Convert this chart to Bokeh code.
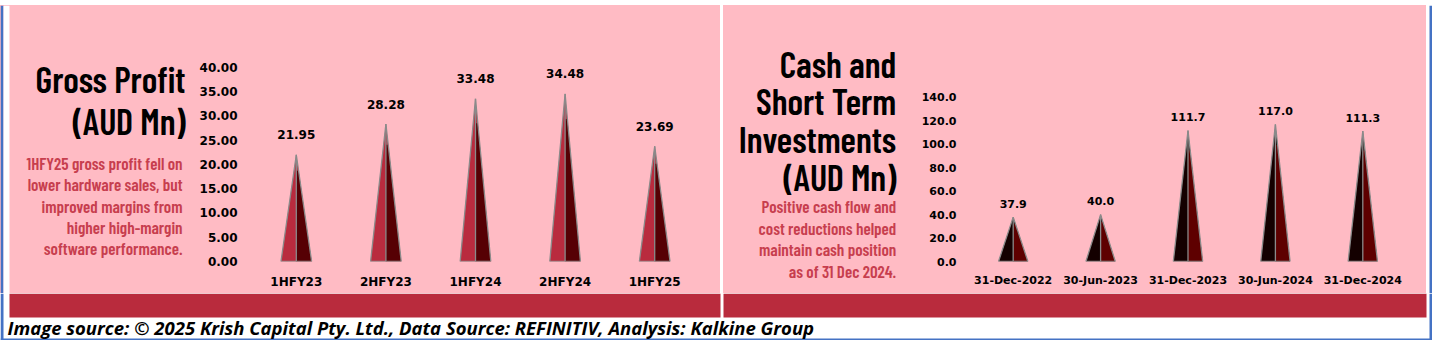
from bokeh.plotting import figure
from bokeh.models import Range1d, FixedTicker, NumeralTickFormatter
from bokeh.layouts import row, column
from bokeh.embed import file_html
from bokeh.resources import INLINE
from bokeh.core.properties import value

# ---------------- data ----------------
gp_periods = ["1HFY23", "2HFY23", "1HFY24", "2HFY24", "1HFY25"]
gp_values = [21.95, 28.28, 33.48, 34.48, 23.69]
gp_ticks = [0, 5, 10, 15, 20, 25, 30, 35, 40]

cash_dates = ["31-Dec-2022", "30-Jun-2023", "31-Dec-2023", "30-Jun-2024", "31-Dec-2024"]
cash_values = [37.9, 40.0, 111.7, 117.0, 111.3]
cash_ticks = [0, 20, 40, 60, 80, 100, 120, 140]

gp_title = ["Gross Profit", "(AUD Mn)"]
gp_note = ["1HFY25 gross profit fell on", "lower hardware sales, but",
           "improved margins from", "higher high-margin", "software performance."]
cash_title = ["Cash and", "Short Term", "Investments", "(AUD Mn)"]
cash_note = ["Positive cash flow and", "cost reductions helped",
             "maintain cash position", "as of 31 Dec 2024."]
source_note = "Image source: \u00a9 2025 Krish Capital Pty. Ltd., Data Source: REFINITIV, Analysis: Kalkine Group"

# ---------------- style ----------------
PINK = "#FFBBC4"
BAND = "#B92B3D"
BLUE = "#4472C4"
NOTE = "#C73E4E"
OUTLINE = "#8A8A8A"
NARROW = "Barlow Condensed SemiBold, Barlow Condensed, DejaVu Sans Condensed, sans-serif"
TICKF = "DejaVu Sans"

W = 1432
TOP_H = 5
ROW_H = 288
BOT_H = 47
FRAME_H = 256


def canvas(w, h, bg):
    p = figure(width=w, height=h, x_range=Range1d(0, w), y_range=Range1d(h, 0),
               toolbar_location=None, output_backend="svg", title=None,
               x_axis_location=None, y_axis_location=None, min_border=0,
               outline_line_color=None, background_fill_color=None, border_fill_color=None,
               frame_align=False, styles={"background-color": bg})
    p.grid.visible = False
    return p


def text_block(p, lines, x, ys, size, color, style="normal", align="right"):
    p.text(x=[x] * len(lines), y=ys, text=lines, text_align=align,
           text_baseline="alphabetic", text_font=value(NARROW),
           text_font_size=size, text_color=color, text_font_style=style)


def cone_chart(cats, vals, ticks, fmt, y_end, width, b_left, b_right, hw,
               left_col, right_col, fsize, val_off, y_stand, x_stand, dec):
    n = len(cats)
    p = figure(width=width, height=ROW_H, x_range=Range1d(-0.5, n - 0.5),
               y_range=Range1d(0, y_end), toolbar_location=None, output_backend="svg",
               title=None, min_border_left=b_left, min_border_right=b_right,
               min_border_top=0, min_border_bottom=ROW_H - FRAME_H,
               background_fill_color=None, border_fill_color=None, outline_line_color=None,
               frame_align=False, styles={"background-color": PINK})
    p.grid.visible = False
    centers = list(range(n))
    xs = [[c - hw, c, c + hw] for c in centers]
    ys = [[0, v, 0] for v in vals]
    p.patches(xs, ys, fill_color=left_col, line_color=None)
    xs2 = [[c, c, c + hw * 0.15, c + hw] for c in centers]
    ys2 = [[0, v * 0.85, v * 0.85, 0] for v in vals]
    p.patches(xs2, ys2, fill_color=right_col, line_color=None)
    p.patches(xs, ys, fill_color=None, line_color=OUTLINE, line_width=1.3)
    p.segment(x0=centers, y0=[0] * n, x1=centers, y1=vals, line_color=OUTLINE, line_width=1.3)
    p.text(x=centers, y=vals, text=[f"{v:.{dec}f}" for v in vals], text_align="center",
           text_baseline="middle", y_offset=-val_off, text_font=value(TICKF),
           text_font_style="bold", text_font_size=fsize, text_color="black")
    ya = p.yaxis[0]
    ya.ticker = FixedTicker(ticks=ticks)
    ya.formatter = NumeralTickFormatter(format=fmt)
    xa = p.xaxis[0]
    xa.ticker = FixedTicker(ticks=centers)
    xa.major_label_overrides = {c: lab for c, lab in zip(centers, cats)}
    for ax, st in ((ya, y_stand), (xa, x_stand)):
        ax.axis_line_color = None
        ax.major_tick_line_color = None
        ax.minor_tick_line_color = None
        ax.major_tick_out = 0
        ax.major_tick_in = 0
        ax.major_label_standoff = st
        ax.major_label_text_font = TICKF
        ax.major_label_text_font_style = "bold"
        ax.major_label_text_font_size = fsize
        ax.major_label_text_color = "black"
    return p


# ---------------- top strip ----------------
top = canvas(W, TOP_H, "white")
top.quad(left=[0], right=[W], top=[0], bottom=[2], fill_color=BLUE, line_color=None)

# ---------------- left title panel ----------------
lt = canvas(188, ROW_H, PINK)
lt.quad(left=[0], right=[3], top=[0], bottom=[ROW_H], fill_color=BLUE, line_color=None)
lt.quad(left=[3], right=[9], top=[0], bottom=[ROW_H], fill_color="white", line_color=None)
text_block(lt, gp_title, 185, [73, 114.5], "36px", "black")
text_block(lt, gp_note, 182, [157.5, 178.75, 200, 221.25, 242.5], "17px", NOTE)

# ---------------- left chart ----------------
lc = cone_chart(gp_periods, gp_values, gp_ticks, "0.00", FRAME_H / 4.86, 532, 63, 21,
                0.171, "#B92B3E", "#560004", "12px", 20, 14, 13, 2)

gap = canvas(3, ROW_H, "white")

# ---------------- right title panel ----------------
rt = canvas(185, ROW_H, PINK)
text_block(rt, cash_title, 172.7, [57.7, 95.2, 133, 171], "36px", "black")
text_block(rt, cash_note, 172.7, [200.5, 222, 243.2, 265.5], "17px", NOTE)

# ---------------- right chart ----------------
rc = cone_chart(cash_dates, cash_values, cash_ticks, "0.0", FRAME_H / 1.172, 518, 61, 20,
                0.168, "#140000", "#5E0000", "11px", 13.5, 13, 12, 1)

rs = canvas(6, ROW_H, "white")
rs.quad(left=[3], right=[6], top=[0], bottom=[ROW_H], fill_color=BLUE, line_color=None)

# ---------------- bottom band + source ----------------
bt = canvas(W, BOT_H, "white")
bt.quad(left=[9, 723], right=[720, 1426], top=[0, 0], bottom=[24, 24], fill_color=BAND, line_color=None)
bt.quad(left=[0, W - 3, 0], right=[3, W, W], top=[0, 0, BOT_H - 2], bottom=[BOT_H, BOT_H, BOT_H],
        fill_color=BLUE, line_color=None)
bt.text(x=[7], y=[34], text=[source_note], text_align="left", text_baseline="middle",
        text_font=value("Open Sans"), text_font_style="bold italic", text_font_size="18.5px",
        text_color="black")

layout = column(top, row(lt, lc, gap, rt, rc, rs, spacing=0), bt, spacing=0)

open("out.html", "w").write(file_html(layout, INLINE))
